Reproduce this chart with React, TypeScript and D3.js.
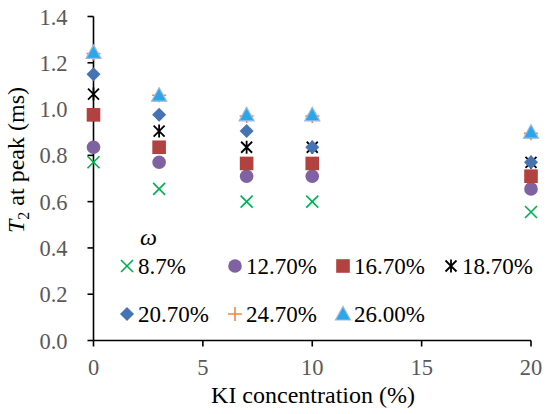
import { useEffect, useRef } from 'react';
import * as d3 from 'd3';

// KI concentration (%) on x, T2 at peak (ms) on y, one series per water content
const kiConc = [0, 3, 7, 10, 20];
const omegaLabels = ['8.7%', '12.70%', '16.70%', '18.70%', '20.70%', '24.70%', '26.00%'];
const w87 = [0.77, 0.655, 0.6, 0.6, 0.555];
const w127 = [0.835, 0.77, 0.71, 0.71, 0.655];
const w167 = [0.975, 0.835, 0.765, 0.765, 0.71];
const w187 = [1.065, 0.905, 0.835, 0.835, 0.77];
const w207 = [1.15, 0.975, 0.905, 0.835, 0.77];
const w247 = [1.24, 1.06, 0.97, 0.97, 0.895];
const w260 = [1.245, 1.06, 0.975, 0.975, 0.9];
const xTicks = [0, 5, 10, 15, 20];
const yTicks = [0, 0.2, 0.4, 0.6, 0.8, 1.0, 1.2, 1.4];

const seriesValues = [w87, w127, w167, w187, w207, w247, w260];
const markerKinds = ['x', 'circle', 'square', 'star', 'diamond', 'plus', 'triangle'];
const markerColors = ['#00B050', '#7F62A1', '#B2423F', '#000000', '#4573B3', '#F08A3C', '#2AA6EA'];

const FONT = '"Liberation Serif", "Times New Roman", Times, serif';
const serif = { fontFamily: FONT };

const x = d3.scaleLinear().domain([0, 20]).range([93.5, 531]);
const y = d3.scaleLinear().domain([0, 1.4]).range([340.5, 16.5]);
const fmtY = d3.format('.1f');

function Marker({ kind, color, cx, cy }: { kind: string; color: string; cx: number; cy: number }) {
  const t = `translate(${cx},${cy})`;
  if (kind === 'x') return <path transform={t} d="M-6,-6L6,6M-6,6L6,-6" stroke={color} strokeWidth={1.6} fill="none" />;
  if (kind === 'circle') return <circle cx={cx} cy={cy} r={6.8} fill={color} />;
  if (kind === 'square') return <rect x={cx - 6.8} y={cy - 6.8} width={13.6} height={13.6} fill={color} />;
  if (kind === 'star') return <path transform={t} d="M-5.5,-5.5L5.5,5.5M-5.5,5.5L5.5,-5.5M0,-6.5L0,6.5" stroke={color} strokeWidth={1.8} fill="none" />;
  if (kind === 'diamond') return <path transform={t} d="M0,-7L7,0L0,7L-7,0Z" fill={color} />;
  if (kind === 'plus') return <path transform={t} d="M-7,0L7,0M0,-7L0,7" stroke={color} strokeWidth={1.6} fill="none" />;
  return <path transform={t} d="M0,-7.5L7.5,6L-7.5,6Z" fill={color} stroke="#9DB7DE" strokeWidth={1.2} />;
}

export default function App() {
  const svgRef = useRef<SVGSVGElement>(null);
  const x0 = x(0);
  const y0 = y(0);
  const colX = [127, 235, 343, 451];
  const rowY = [266, 314];

  useEffect(() => {
    if (!svgRef.current) return;
    d3.select(svgRef.current).selectAll<SVGTextElement, unknown>('text, tspan').each(function () {
      this.style.setProperty('font-family', FONT, 'important');
    });
  }, []);

  return (
    <svg ref={svgRef} width={550} height={414} style={{ position: 'absolute', left: 0, top: 0, fontFamily: FONT }}>
      <style>{`svg text, svg tspan { font-family: ${FONT} !important; }`}</style>
      <rect width={550} height={414} fill="#fff" />
      {/* y axis */}
      <line x1={x0} x2={x0} y1={y(1.4)} y2={y0} stroke="#000" strokeWidth={1.6} />
      {yTicks.map(t => (
        <g key={`y${t}`}>
          <line x1={x0 - 6} x2={x0} y1={y(t)} y2={y(t)} stroke="#000" strokeWidth={1.6} />
          <text x={x0 - 26} y={y(t) + 8} textAnchor="end" fill="#595959" fontSize={22.5} style={serif}>{fmtY(t)}</text>
        </g>
      ))}

      {/* x axis */}
      <line x1={x0} x2={x(20)} y1={y0} y2={y0} stroke="#000" strokeWidth={1.6} />
      {xTicks.map(t => (
        <g key={`x${t}`}>
          <line x1={x(t)} x2={x(t)} y1={y0} y2={y0 + 6} stroke="#000" strokeWidth={1.6} />
          <text x={x(t)} y={y0 + 34} textAnchor="middle" fill="#595959" fontSize={22.5} style={serif}>{t}</text>
        </g>
      ))}

      {/* points, later series on top */}
      {seriesValues.map((vals, i) => (
        <g key={`s${i}`}>
          {vals.map((v, j) => (
            <Marker key={j} kind={markerKinds[i]} color={markerColors[i]} cx={x(kiConc[j])} cy={y(v)} />
          ))}
        </g>
      ))}

      {/* axis titles */}
      <text x={313} y={403} textAnchor="middle" fontSize={24} fill="#000" style={serif}>KI concentration (%)</text>
      <text transform="translate(24,160) rotate(-90)" textAnchor="middle" fontSize={24} fill="#000" style={serif}>
        <tspan fontStyle="italic">T</tspan>
        <tspan fontSize={16} dy={5}>2</tspan>
        <tspan dy={-5}> at peak (ms)</tspan>
      </text>

      {/* legend */}
      <text x={140} y={245} fontSize={24} fontStyle="italic" fill="#000" style={serif}>ω</text>
      {omegaLabels.map((label, i) => {
        const cx = colX[i % 4];
        const cy = rowY[Math.floor(i / 4)];
        return (
          <g key={label}>
            <Marker kind={markerKinds[i]} color={markerColors[i]} cx={cx} cy={cy} />
            <text x={cx + 11} y={cy + 8} fontSize={23} fill="#000" style={serif}>{label}</text>
          </g>
        );
      })}
    </svg>
  );
}
